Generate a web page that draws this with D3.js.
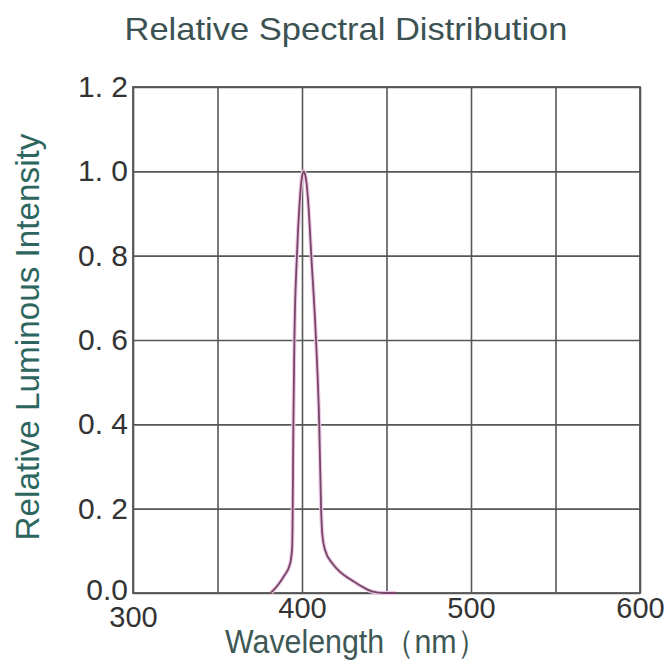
<!DOCTYPE html>
<html>
<head>
<meta charset="utf-8">
<script src="https://cdn.jsdelivr.net/npm/d3@7"></script>
<style>
  body { margin: 0; background: #fff; }
  svg { display: block; font-family: "Liberation Sans", Arial, sans-serif; }
</style>
</head>
<body>
<div id="chart"></div>
<script>
// spectrum readings (nm, relative intensity)
const wavelengths = [381.5, 386, 389, 393, 394.2, 394.5, 394.9, 395.5, 397, 398.5, 399.6, 400.4, 401,
  401.7, 402.6, 403.8, 405.5, 408.3, 410.2, 411.3, 412, 413.8, 418, 422.5, 429.5, 436, 442, 448, 455.6];
const intensities = [0, 0.02, 0.038, 0.07, 0.11, 0.2, 0.4, 0.6, 0.8, 0.92, 0.975, 0.995, 1.0,
  0.995, 0.975, 0.92, 0.8, 0.6, 0.4, 0.2, 0.14, 0.1, 0.07, 0.05, 0.03, 0.014, 0.003, 0, 0];

const xGrid = [300, 350, 400, 450, 500, 550, 600];
const yGrid = [0, 0.2, 0.4, 0.6, 0.8, 1.0, 1.2];
const xTickValues = [300, 400, 500, 600];
const xTickLabels = ['300', '400', '500', '600'];
const yTickLabels = ['0.0', '0. 2', '0. 4', '0. 6', '0. 8', '1. 0', '1. 2'];

const title = 'Relative  Spectral  Distribution';
const xTitle = 'Wavelength（nm）';
const yTitle = 'Relative Luminous Intensity';

const W = 670, H = 668;
const margin = { top: 87, right: 30, bottom: 75, left: 133 };
const width = W - margin.left - margin.right;
const height = H - margin.top - margin.bottom;

const svg = d3.select('#chart').append('svg')
  .attr('width', W)
  .attr('height', H);

const g = svg.append('g')
  .attr('transform', `translate(${margin.left},${margin.top})`);

const x = d3.scaleLinear().domain([300, 600]).range([0, width]);
const y = d3.scaleLinear().domain([0, 1.2]).range([height, 0]);

// Grid
g.append('g')
  .attr('class', 'grid')
  .attr('transform', `translate(0,${height})`)
  .call(d3.axisBottom(x).tickValues(xGrid).tickSize(-height).tickFormat(''))
  .call(s => s.select('.domain').remove());

g.append('g')
  .attr('class', 'grid')
  .call(d3.axisLeft(y).tickValues(yGrid).tickSize(-width).tickFormat(''))
  .call(s => s.select('.domain').remove());

g.selectAll('.grid line')
  .attr('stroke', '#575757')
  .attr('stroke-width', 1.6);

g.append('rect')
  .attr('width', width)
  .attr('height', height)
  .attr('fill', 'none')
  .attr('stroke', '#575757')
  .attr('stroke-width', 1.8);

// Tick labels
const yAxis = g.append('g')
  .call(d3.axisLeft(y).tickValues(yGrid).tickSize(0).tickPadding(5)
    .tickFormat((d, i) => yTickLabels[i]));
yAxis.select('.domain').remove();
yAxis.selectAll('text')
  .attr('fill', '#333')
  .style('font-size', '30px')
  .attr('dy', (d, i) => i === 0 ? '0.2em' : '0.32em');

const xAxis = g.append('g')
  .attr('transform', `translate(0,${height})`)
  .call(d3.axisBottom(x).tickValues(xTickValues).tickSize(0).tickPadding(2)
    .tickFormat((d, i) => xTickLabels[i]));
xAxis.select('.domain').remove();
xAxis.selectAll('text')
  .attr('fill', '#333')
  .style('font-size', '29px')
  .attr('dy', (d, i) => i === 0 ? '1.1em' : '0.78em');

// Curve
const points = wavelengths.map((w, i) => [w, intensities[i]]);
const line = d3.line()
  .x(d => x(d[0]))
  .y(d => y(d[1]))
  .curve(d3.curveMonotoneX);

g.append('path')
  .datum(points)
  .attr('fill', 'none')
  .attr('stroke', '#f0c8e6')
  .attr('stroke-width', 4)
  .attr('d', line);

g.append('path')
  .datum(points)
  .attr('fill', 'none')
  .attr('stroke', '#744866')
  .attr('stroke-width', 1.8)
  .attr('d', line);

// Titles
svg.append('text')
  .attr('x', 346)
  .attr('y', 40)
  .attr('text-anchor', 'middle')
  .attr('textLength', 443)
  .attr('lengthAdjust', 'spacingAndGlyphs')
  .attr('fill', '#3c5252')
  .style('font-size', '32px')
  .text(title);

svg.append('text')
  .attr('x', 225)
  .attr('y', 653)
  .attr('textLength', 262)
  .attr('lengthAdjust', 'spacingAndGlyphs')
  .attr('fill', '#3d5855')
  .style('font-size', '33px')
  .text(xTitle);

svg.append('text')
  .attr('transform', 'translate(39,337) rotate(-90)')
  .attr('text-anchor', 'middle')
  .attr('textLength', 407)
  .attr('lengthAdjust', 'spacingAndGlyphs')
  .attr('fill', '#2d665e')
  .style('font-size', '33px')
  .text(yTitle);
</script>
</body>
</html>
